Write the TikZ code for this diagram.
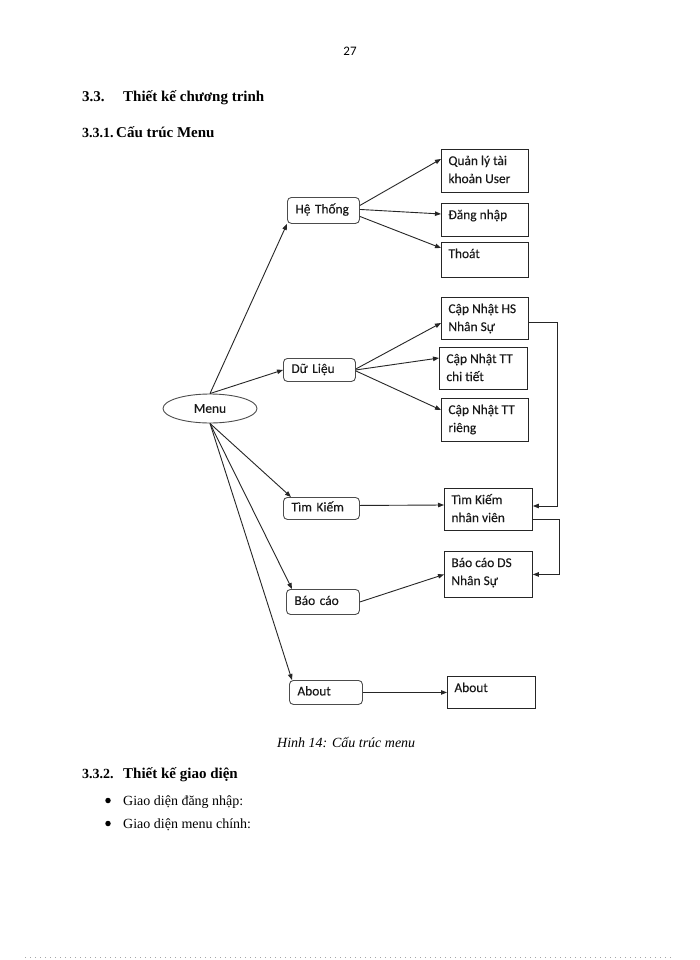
\documentclass[tikz,border=0pt]{standalone}
\usepackage{fontspec}
\setmainfont{Liberation Serif}
\newfontfamily\diagfont[FakeBold=0.2]{Carlito}
\newfontfamily\pagefont{Carlito}
\usetikzlibrary{arrows.meta,shapes.geometric,calc}
\newcommand{\bxtext}[3]{\parbox[c][#2pt][t]{#1pt}{\vspace*{3pt}\raggedright\leftskip=7pt\strut #3}}
\begin{document}
\begin{tikzpicture}[x=1pt,y=-1pt,
  dfont/.style={font=\diagfont\fontsize{13.4}{18}\selectfont, text=black!90},
  ln/.style={draw=black!85, line width=0.9pt},
  arr/.style={ln, -{Triangle[length=6pt,width=4.5pt]}},
  rbox/.style={dfont, draw=black!70, line width=0.9pt, rounded corners=4pt, anchor=north west,
    inner xsep=8pt, inner ysep=0pt, align=left, text height=9pt, text depth=3pt},
  sbox/.style={dfont, draw=black!85, line width=0.9pt, anchor=north west, inner sep=0pt},
  head/.style={anchor=base west, inner sep=0pt, font=\bfseries\fontsize{15}{18}\selectfont},
  headnum/.style={anchor=base west, inner sep=0pt, font=\bfseries\fontsize{14}{18}\selectfont},
  body/.style={anchor=base west, inner sep=0pt, font=\fontsize{14}{17}\selectfont},
  bullet/.style={circle, fill=black, inner sep=0pt, minimum size=5.5pt},
]
\fill[white] (0,0) rectangle (700,960);
\useasboundingbox (0,0) rectangle (700,960);

% page header and headings
\node[anchor=base, inner sep=0pt, font=\pagefont\fontsize{13}{15}\selectfont] (pnum) at (350,56) {27};
\node[head] (h1n) at (82,102) {3.3.};
\node[head] (h1t) at (123,102) {Thiết kế chương trinh};
\node[headnum] (h2n) at (82,138) {3.3.1.};
\node[head] (h2t) at (116,138) {Cấu trúc Menu};

% root
\node[dfont, ellipse, draw=black!70, line width=0.9pt, minimum width=94pt, minimum height=29pt, inner sep=0pt] (menu) at (210,408.5) {Menu};

% second level (rounded)
\node[rbox, text width=56pt, minimum height=26pt] (he) at (287,197) {Hệ Thống};
\node[rbox, text width=56pt, minimum height=23pt] (du) at (283,358) {Dữ Liệu};
\node[rbox, text width=60pt, minimum height=22pt] (tk) at (283,497) {Tìm Kiếm};
\node[rbox, text width=57pt, minimum height=25pt] (bc) at (286,589) {Báo cáo};
\node[rbox, text width=57pt, minimum height=24pt] (ab) at (289,680) {About};

% third level (square)
\node[sbox] (q1) at (441,149) {\bxtext{87}{43}{Quản lý tài\\khoản User}};
\node[sbox] (q2) at (441,203) {\bxtext{87}{33}{Đăng nhập}};
\node[sbox] (q3) at (441,242) {\bxtext{87}{35}{Thoát}};
\node[sbox] (d1) at (441,297) {\bxtext{87}{42}{Cập Nhật HS\\Nhân Sự}};
\node[sbox] (d2) at (439,347) {\bxtext{88}{42}{Cập Nhật TT\\chi tiết}};
\node[sbox] (d3) at (441,398) {\bxtext{87}{43}{Cập Nhật TT\\riêng}};
\node[sbox] (t1) at (444,488) {\bxtext{88}{42}{Tìm Kiếm\\nhân viên}};
\node[sbox] (b1) at (444,551) {\bxtext{88}{46}{Báo cáo DS\\Nhân Sự}};
\node[sbox] (a1) at (447,676) {\bxtext{88}{32}{About}};

% connectors from Menu
\draw[arr] (menu.north) -- (he.south west);
\draw[arr] (menu.north) -- (du.west);
\draw[arr] (menu.south) -- ($(tk.north west)+(8,0)$);
\draw[arr] (menu.south) -- ($(bc.north west)+(6,0)$);
\draw[arr] (menu.south) -- ($(ab.north west)+(3,0)$);

% Hệ Thống children
\draw[arr] ($(he.east)+(0,-5)$) -- ($(q1.north west)+(0,10)$);
\draw[arr] ($(he.east)+(0,-1)$) -- ($(q2.north west)+(0,11)$);
\draw[arr] ($(he.east)+(0,6)$) -- ($(q3.north west)+(0,6)$);

% Dữ Liệu children
\draw[arr] ($(du.east)+(0,-1)$) -- ($(d1.north west)+(0,26)$);
\draw[arr] (du.east) -- ($(d2.north west)+(0,11)$);
\draw[arr] ($(du.east)+(0,1)$) -- ($(d3.north west)+(0,12)$);

% others
\draw[arr] ($(tk.east)+(0,-3)$) -- ($(t1.north west)+(0,17)$);
\draw[arr] (bc.east) -- (b1.west);
\draw[arr] (ab.east) -- (a1.west);
\draw[arr] ($(d1.north east)+(0,25)$) -- ++(29,0) |- ($(t1.north east)+(0,18)$);
\draw[arr] ($(t1.north east)+(0,31)$) -- ++(27,0) |- (b1.east);

% caption and following text
\node[anchor=base west, inner sep=0pt, font=\itshape\fontsize{14}{17}\selectfont] (cap) at (277,747) {Hinh 14: Cấu trúc menu};
\node[headnum] (h3n) at (82,778) {3.3.2.};
\node[head] (h3t) at (123,778) {Thiết kế giao diện};
\node[bullet] (bul1) at (108,800.5) {};
\node[body] (li1) at (123,805) {Giao diện đăng nhập:};
\node[bullet] (bul2) at (108,823.5) {};
\node[body] (li2) at (123,828) {Giao diện menu chính:};

% dotted page edge
\coordinate (dl) at (25,957);
\coordinate (dr) at (672,957);
\draw[black!35, line width=0.8pt, dash pattern=on 1pt off 4pt] (dl) -- (dr);
\end{tikzpicture}
\end{document}
